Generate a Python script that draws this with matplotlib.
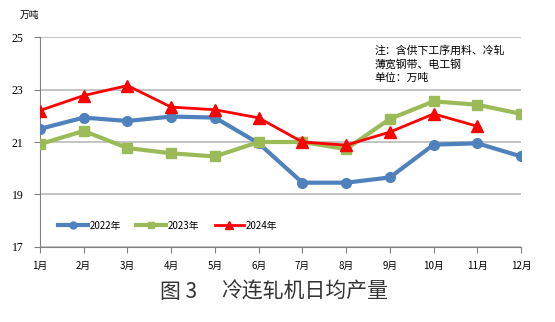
import matplotlib
matplotlib.use("Agg")
import matplotlib.pyplot as plt
from matplotlib.lines import Line2D

plt.rcParams['font.family'] = ['Liberation Serif', 'Noto Sans CJK SC', 'DejaVu Sans']

months = ["1月", "2月", "3月", "4月", "5月", "6月", "7月", "8月", "9月", "10月", "11月", "12月"]
y2022 = [21.5, 21.93, 21.8, 21.97, 21.93, 20.95, 19.45, 19.45, 19.65, 20.9, 20.95, 20.45]
y2023 = [20.92, 21.42, 20.77, 20.57, 20.45, 21.0, 21.0, 20.73, 21.88, 22.55, 22.42, 22.07]
y2024 = [22.2, 22.77, 23.15, 22.33, 22.23, 21.92, 21.0, 20.88, 21.38, 22.07, 21.6]
series_labels = ["2022年", "2023年", "2024年"]
yticks = [17, 19, 21, 23, 25]

fig = plt.figure(figsize=(5.55, 3.22), dpi=100)
ax = fig.add_axes([0.072, 0.233, 0.867, 0.652])

x = list(range(len(months)))
ax.plot(x, y2022, color="#4F81BD", lw=3, marker="o", ms=7, zorder=3)
ax.plot(x, y2023, color="#9BBB59", lw=3, marker="s", ms=7, zorder=3)
ax.plot(x[:len(y2024)], y2024, color="#FF0000", lw=2, marker="^", ms=9, zorder=4)

ax.set_xlim(0, 11)
ax.set_ylim(17, 25)
ax.set_yticks(yticks)
ax.set_yticklabels([str(v) for v in yticks], fontsize=8.5)
ax.set_xticks(x)
ax.set_xticklabels(months, fontsize=7, family=['Noto Sans CJK SC'])
ax.tick_params(axis='x', length=4, color="#808080", pad=6)
ax.tick_params(axis='y', length=4, color="#808080", pad=8)
ax.grid(axis='y', color="#BFBFBF", lw=1.3, zorder=0)
for s in ["top", "right"]:
    ax.spines[s].set_visible(False)
ax.spines["left"].set_color("#808080")
ax.spines["bottom"].set_color("#808080")

handles = [
    Line2D([], [], color="#4F81BD", lw=3, marker="o", ms=5),
    Line2D([], [], color="#9BBB59", lw=3, marker="s", ms=5),
    Line2D([], [], color="#FF0000", lw=2, marker="^", ms=6),
]
ax.legend(handles, series_labels, loc="lower left", bbox_to_anchor=(0.02, 0.035),
          ncol=3, frameon=False, handlelength=3, handletextpad=0.2,
          columnspacing=1.6, prop={'family': ['Noto Sans CJK SC'], 'size': 7})

# note box with white background
ax.text(0.695, 0.96, "注：含供下工序用料、冷轧\n薄宽钢带、电工钢\n单位：万吨", transform=ax.transAxes,
        fontsize=7.8, family=['Noto Sans CJK SC'], va="top", ha="left", linespacing=1.35,
        bbox=dict(facecolor="white", edgecolor="none", pad=2), zorder=5)

fig.text(0.036, 0.955, "万吨", fontsize=7, family=['Noto Sans CJK SC'], style="italic", va="center")

# figure caption: number and title
fig.text(0.288, 0.093, "图 3", fontsize=15, family=['Noto Sans CJK SC'],
         ha="left", va="center", color="#333333")
fig.text(0.398, 0.093, "冷连轧机日均产量", fontsize=15, family=['Noto Sans CJK SC'],
         ha="left", va="center", color="#333333")

fig.savefig("out.png", dpi=100)
